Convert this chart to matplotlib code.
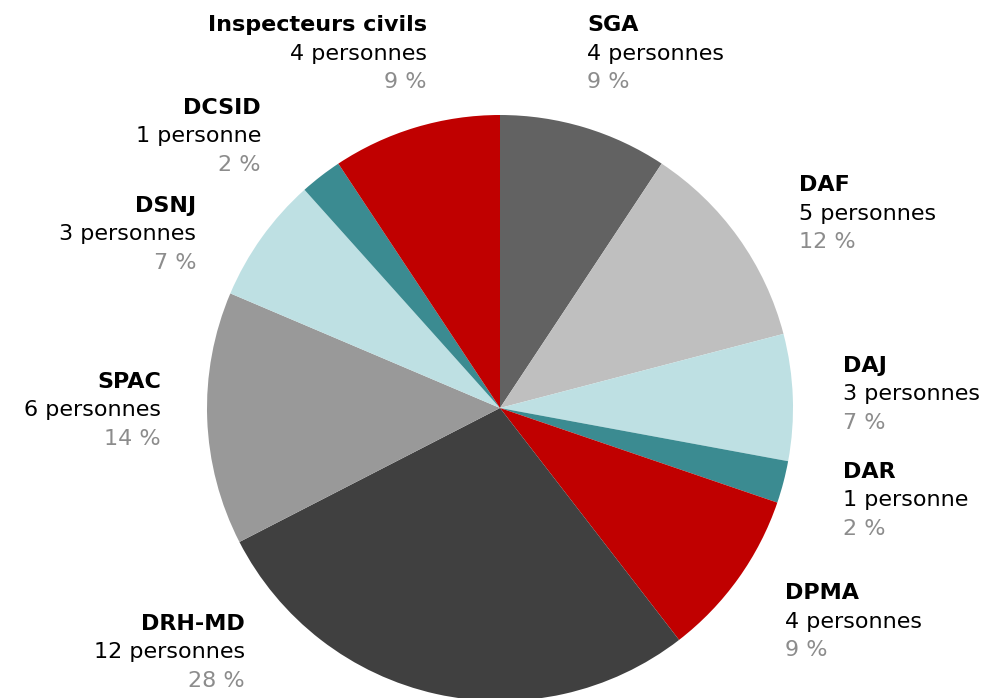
import matplotlib
matplotlib.use("Agg")
import matplotlib.pyplot as plt

categories = ["SGA", "DAF", "DAJ", "DAR", "DPMA", "DRH-MD", "SPAC", "DSNJ", "DCSID", "Inspecteurs civils"]
counts = [4, 5, 3, 1, 4, 12, 6, 3, 1, 4]
colors = ["#626262", "#bfbfbf", "#bee0e3", "#3b8b91", "#c00000",
          "#404040", "#999999", "#bee0e3", "#3b8b91", "#c00000"]

# label layout: (x pixel, first line y pixel, alignment)
label_layout = {
    "SGA": (587, 25, "left"),
    "DAF": (799, 185, "left"),
    "DAJ": (843, 366, "left"),
    "DAR": (843, 472, "left"),
    "DPMA": (785, 593, "left"),
    "DRH-MD": (245, 624, "right"),
    "SPAC": (161, 382, "right"),
    "DSNJ": (196, 206, "right"),
    "DCSID": (261, 108, "right"),
    "Inspecteurs civils": (427, 25, "right"),
}

W, H = 994, 698
fig = plt.figure(figsize=(W / 100, H / 100), dpi=100)
ax = fig.add_axes([0, 0, 1, 1])
ax.set_xlim(0, W)
ax.set_ylim(0, H)
ax.set_aspect("equal")
ax.axis("off")

cx, cy, r = 500, H - 408, 293
ax.pie(counts, colors=colors, startangle=90, counterclock=False,
       center=(cx, cy), radius=r, frame=True,
       wedgeprops=dict(linewidth=0, edgecolor="none", antialiased=True))
ax.set_xlim(0, W)
ax.set_ylim(0, H)
ax.axis("off")

total = sum(counts)
fs = 16
lh = 28.5
for name, n in zip(categories, counts):
    x, y0, ha = label_layout[name]
    pct = round(100 * n / total)
    unit = "personne" if n == 1 else "personnes"
    ax.text(x, H - y0, name, ha=ha, va="center", fontsize=fs, fontweight="bold", color="black")
    ax.text(x, H - (y0 + lh), f"{n} {unit}", ha=ha, va="center", fontsize=fs, color="black")
    ax.text(x, H - (y0 + 2 * lh), f"{pct} %", ha=ha, va="center", fontsize=fs, color="#8c8c8c")

fig.savefig("out.png", dpi=100)
